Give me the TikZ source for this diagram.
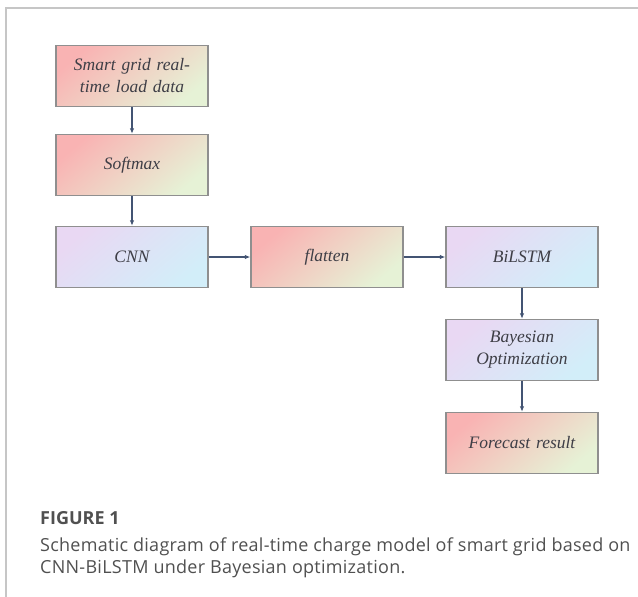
\documentclass[tikz,border=0pt]{standalone}
\usepackage{fontspec}
\setmainfont{Liberation Serif}
\newfontfamily\capfont[LetterSpace=1.5]{Open Sans}
\newfontfamily\caphead{Open Sans}
\usetikzlibrary{arrows.meta}
\definecolor{warmA}{HTML}{F9B3B3}
\definecolor{warmB}{HTML}{E6F2D6}
\definecolor{coolA}{HTML}{E9D8F3}
\definecolor{coolB}{HTML}{D2EEF9}
\definecolor{edgegray}{HTML}{8F8F8F}
\definecolor{linkblue}{HTML}{435473}
\definecolor{txtgray}{HTML}{3E3E46}
\definecolor{framegray}{HTML}{C6C6C6}
\definecolor{capgray}{HTML}{505050}
\tikzset{
  blockbase/.style={draw=edgegray, line width=1.3pt, minimum width=152pt, minimum height=61pt,
    inner sep=2pt, align=center, text width=140pt, text=txtgray,
    font=\fontsize{17.5}{22}\selectfont\itshape},
  warm/.style={blockbase, top color=warmA, bottom color=warmB, shading angle=40},
  cool/.style={blockbase, top color=coolA, bottom color=coolB, shading angle=40},
  link/.style={draw=linkblue, line width=1.2pt, -{Latex[length=5.5pt,width=4.5pt]}}
}
\begin{document}
\begin{tikzpicture}[x=1pt,y=-1pt]
\useasboundingbox (0,0) rectangle (638,597);
% page frame
\draw[framegray, line width=1.4pt] (638,8) -- (6,8) -- (6,597);
% blocks
\node[warm] (data) at (132,76) {Smart grid real-\\time load data};
\node[warm] (soft) at (132,165) {Softmax};
\node[cool] (cnn) at (132,257) {CNN};
\node[warm] (flat) at (327,257) {flatten};
\node[cool] (bil) at (522,257) {BiLSTM};
\node[cool] (bay) at (522,350) {Bayesian\\Optimization};
\node[warm] (fore) at (522,443) {Forecast result};
% connectors
\draw[link] (data) -- (soft);
\draw[link] (soft) -- (cnn);
\draw[link] (cnn) -- (flat);
\draw[link] (flat) -- (bil);
\draw[link] (bil) -- (bay);
\draw[link] (bay) -- (fore);
% caption
\node[anchor=base west, inner sep=0pt, text=capgray, font=\caphead\fontsize{18}{22}\selectfont\bfseries] (figlabel) at (40,524) {FIGURE 1};
\node[anchor=base west, inner sep=0pt, text=capgray, font=\capfont\fontsize{18}{22}\selectfont] (capone) at (40,551)
  {Schematic diagram of real-time charge model of smart grid based on};
\node[anchor=base west, inner sep=0pt, text=capgray, font=\capfont\fontsize{18}{22}\selectfont] (captwo) at (40,573)
  {CNN-BiLSTM under Bayesian optimization.};
\end{tikzpicture}
\end{document}
